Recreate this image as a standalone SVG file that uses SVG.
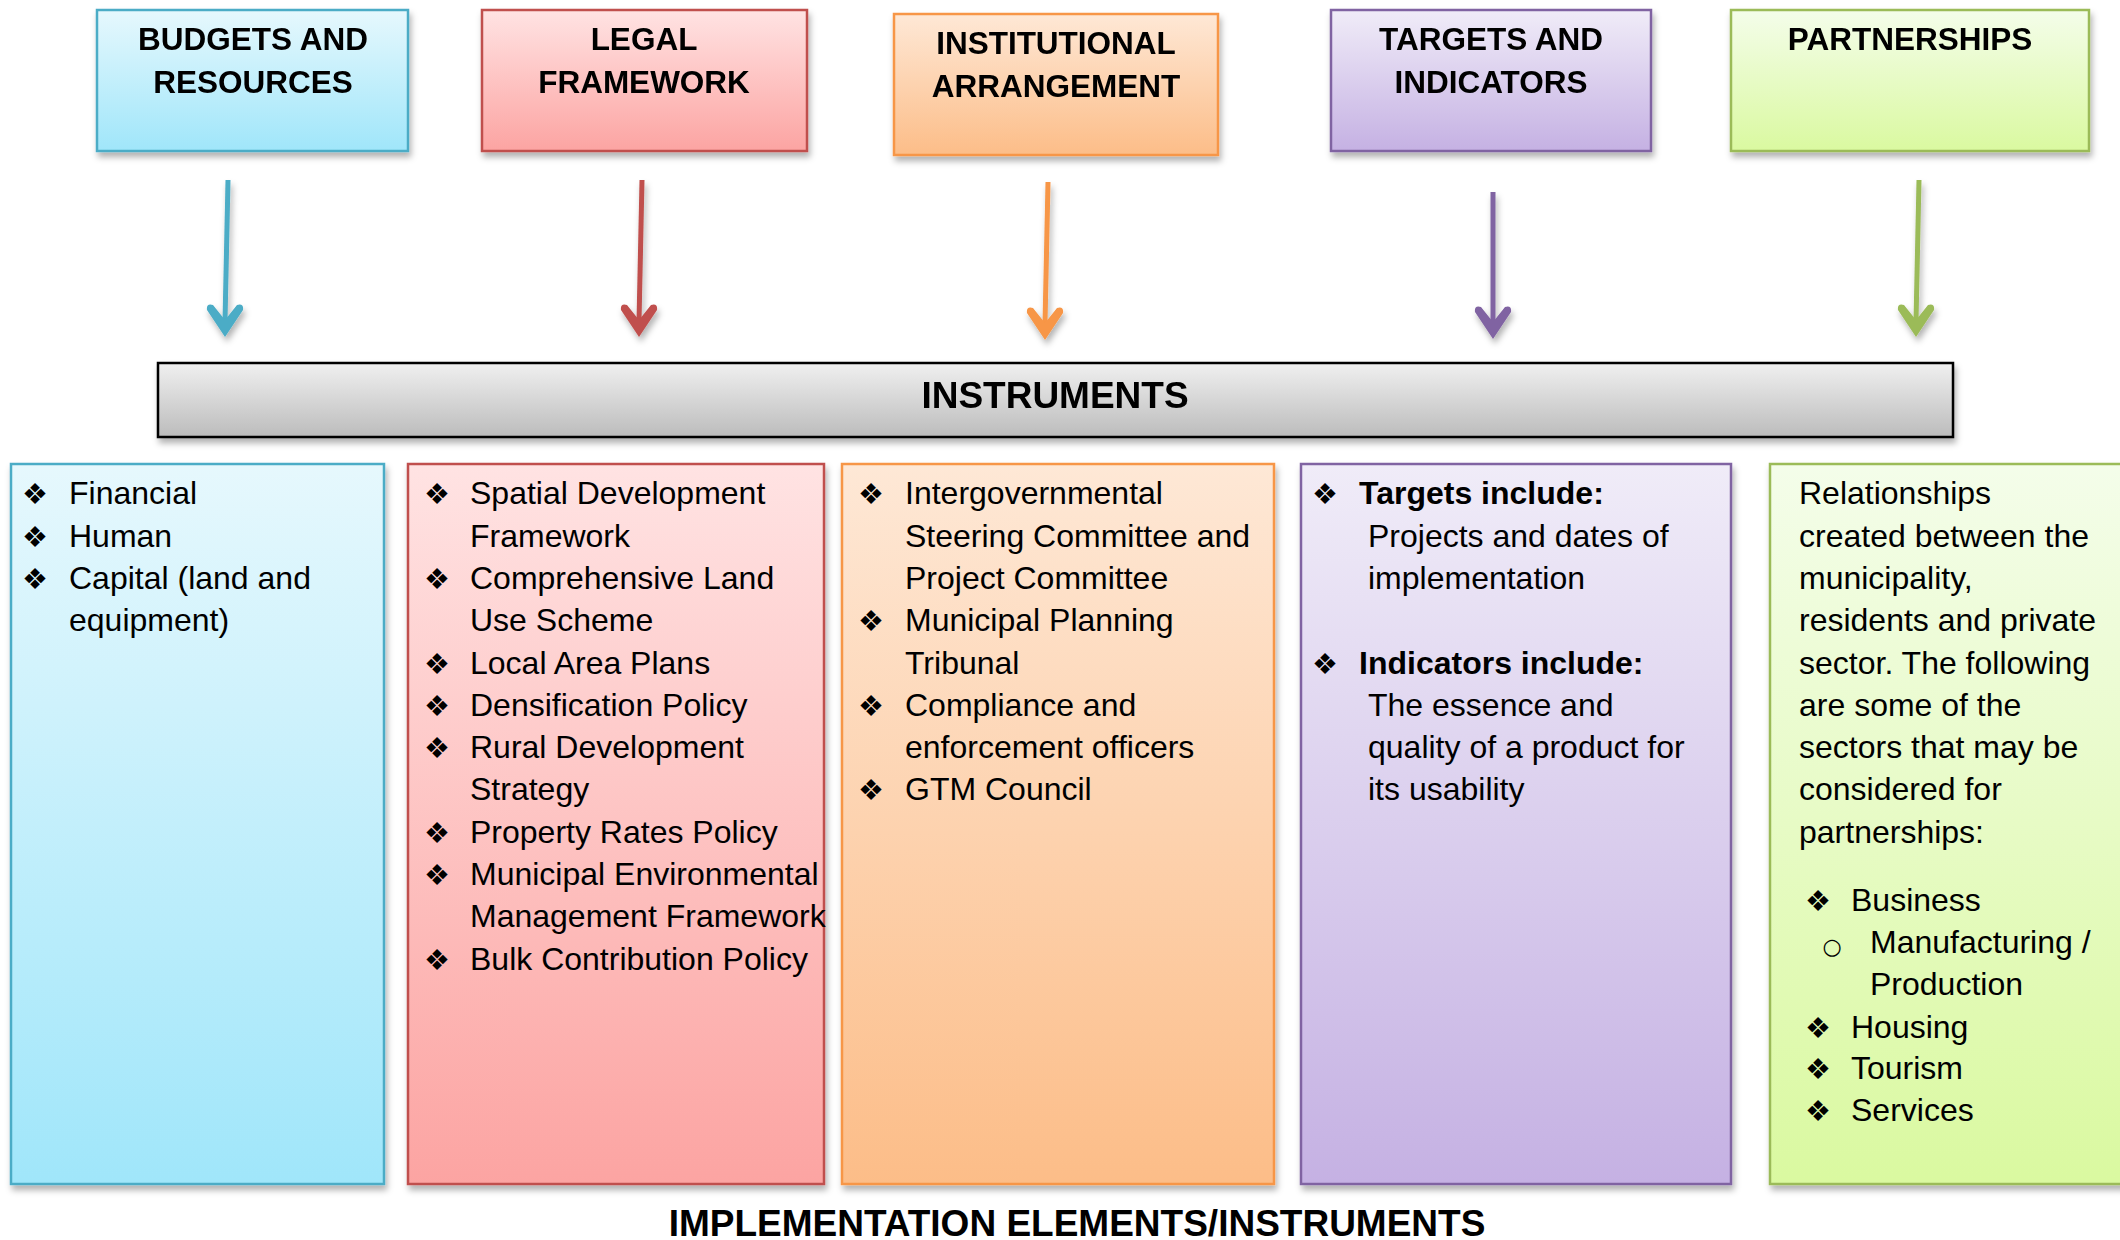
<svg xmlns="http://www.w3.org/2000/svg" width="2120" height="1240" viewBox="0 0 2120 1240">
<defs>
<linearGradient id="gBlue" x1="0" y1="0" x2="0" y2="1"><stop offset="0" stop-color="#E6F8FD"/><stop offset="1" stop-color="#A0E6FA"/></linearGradient>
<linearGradient id="gRed" x1="0" y1="0" x2="0" y2="1"><stop offset="0" stop-color="#FFE3E3"/><stop offset="1" stop-color="#FCA4A2"/></linearGradient>
<linearGradient id="gOrange" x1="0" y1="0" x2="0" y2="1"><stop offset="0" stop-color="#FEE8D6"/><stop offset="1" stop-color="#FCBD88"/></linearGradient>
<linearGradient id="gPurple" x1="0" y1="0" x2="0" y2="1"><stop offset="0" stop-color="#F0ECF8"/><stop offset="1" stop-color="#C5B1E3"/></linearGradient>
<linearGradient id="gGreen" x1="0" y1="0" x2="0" y2="1"><stop offset="0" stop-color="#F4FDEA"/><stop offset="1" stop-color="#DAF9A0"/></linearGradient>
<linearGradient id="gGray" x1="0" y1="0" x2="0" y2="1"><stop offset="0" stop-color="#F0F0F0"/><stop offset="1" stop-color="#BCBCBC"/></linearGradient>
<filter id="sh" x="-10%" y="-10%" width="125%" height="130%"><feDropShadow dx="2" dy="5" stdDeviation="3" flood-color="#000" flood-opacity="0.3"/></filter>
<path id="head" d="M0,0 L-18,-27 Q-19,-34 -12,-32 L0,-17 L12,-32 Q19,-34 18,-27 Z"/>
</defs>
<style>
.h{font-family:"Liberation Sans",Arial,sans-serif;font-weight:bold;font-size:31.5px;fill:#000;text-anchor:middle}
.big{font-family:"Liberation Sans",Arial,sans-serif;font-weight:bold;font-size:37px;fill:#000;text-anchor:middle}
.t{font-family:"Liberation Sans",Arial,sans-serif;font-size:32px;fill:#000}
.b{font-family:"Liberation Sans",Arial,sans-serif;font-size:32px;font-weight:bold;fill:#000}
.bul{font-family:"DejaVu Sans",sans-serif;font-size:29px;fill:#000;text-anchor:middle}
.sub{font-family:"DejaVu Sans",sans-serif;font-size:22px;fill:#000;text-anchor:middle}
.box{stroke-width:2.5}
</style>

<g id="node-budgets" filter="url(#sh)">
<rect class="box" x="97" y="10" width="311" height="141" fill="url(#gBlue)" stroke="#4BACC6"/>
<text class="h" x="253" y="50">BUDGETS AND</text>
<text class="h" x="253" y="93">RESOURCES</text>
</g>
<g id="node-legal" filter="url(#sh)">
<rect class="box" x="482" y="10" width="325" height="141" fill="url(#gRed)" stroke="#C0504D"/>
<text class="h" x="644" y="50">LEGAL</text>
<text class="h" x="644" y="93">FRAMEWORK</text>
</g>
<g id="node-institutional" filter="url(#sh)">
<rect class="box" x="894" y="14" width="324" height="141" fill="url(#gOrange)" stroke="#F79646"/>
<text class="h" x="1056" y="54">INSTITUTIONAL</text>
<text class="h" x="1056" y="97">ARRANGEMENT</text>
</g>
<g id="node-targets" filter="url(#sh)">
<rect class="box" x="1331" y="10" width="320" height="141" fill="url(#gPurple)" stroke="#8064A2"/>
<text class="h" x="1491" y="50">TARGETS AND</text>
<text class="h" x="1491" y="93">INDICATORS</text>
</g>
<g id="node-partnerships" filter="url(#sh)">
<rect class="box" x="1731" y="10" width="358" height="141" fill="url(#gGreen)" stroke="#9BBB59"/>
<text class="h" x="1910" y="50">PARTNERSHIPS</text>
</g>

<g id="node-instruments" filter="url(#sh)">
<rect x="158" y="363" width="1795" height="74" fill="url(#gGray)" stroke="#000" stroke-width="2.5"/>
<text class="big" x="1055" y="408">INSTRUMENTS</text>
</g>

<g id="connectors" filter="url(#sh)">
<g stroke-width="5" fill="none">
<line x1="228" y1="180" x2="225" y2="322" stroke="#4BACC6"/>
<line x1="642" y1="180" x2="639" y2="322" stroke="#C0504D"/>
<line x1="1048" y1="182" x2="1045" y2="324" stroke="#F79646"/>
<line x1="1493" y1="192" x2="1493" y2="322" stroke="#8064A2"/>
<line x1="1919" y1="180" x2="1916" y2="322" stroke="#9BBB59"/>
</g>
<use href="#head" transform="translate(225,337)" fill="#4BACC6"/>
<use href="#head" transform="translate(639,337)" fill="#C0504D"/>
<use href="#head" transform="translate(1045,340)" fill="#F79646"/>
<use href="#head" transform="translate(1493,339)" fill="#8064A2"/>
<use href="#head" transform="translate(1916,337)" fill="#9BBB59"/>
</g>

<g id="node-list-budgets">
<rect class="box" x="11" y="464" width="373" height="720" fill="url(#gBlue)" stroke="#4BACC6" filter="url(#sh)"/>
<text class="bul" x="35" y="504">❖</text><text class="t" x="69" y="504">Financial</text>
<text class="bul" x="35" y="547">❖</text><text class="t" x="69" y="547">Human</text>
<text class="bul" x="35" y="589">❖</text><text class="t" x="69" y="589">Capital (land and</text>
<text class="t" x="69" y="631">equipment)</text>
</g>

<g id="node-list-legal">
<rect class="box" x="408" y="464" width="416" height="720" fill="url(#gRed)" stroke="#C0504D" filter="url(#sh)"/>
<text class="bul" x="437" y="504">❖</text><text class="t" x="470" y="504">Spatial Development</text>
<text class="t" x="470" y="547">Framework</text>
<text class="bul" x="437" y="589">❖</text><text class="t" x="470" y="589">Comprehensive Land</text>
<text class="t" x="470" y="631">Use Scheme</text>
<text class="bul" x="437" y="674">❖</text><text class="t" x="470" y="674">Local Area Plans</text>
<text class="bul" x="437" y="716">❖</text><text class="t" x="470" y="716">Densification Policy</text>
<text class="bul" x="437" y="758">❖</text><text class="t" x="470" y="758">Rural Development</text>
<text class="t" x="470" y="800">Strategy</text>
<text class="bul" x="437" y="843">❖</text><text class="t" x="470" y="843">Property Rates Policy</text>
<text class="bul" x="437" y="885">❖</text><text class="t" x="470" y="885">Municipal Environmental</text>
<text class="t" x="470" y="927">Management Framework</text>
<text class="bul" x="437" y="970">❖</text><text class="t" x="470" y="970">Bulk Contribution Policy</text>
</g>

<g id="node-list-institutional">
<rect class="box" x="842" y="464" width="432" height="720" fill="url(#gOrange)" stroke="#F79646" filter="url(#sh)"/>
<text class="bul" x="871" y="504">❖</text><text class="t" x="905" y="504">Intergovernmental</text>
<text class="t" x="905" y="547">Steering Committee and</text>
<text class="t" x="905" y="589">Project Committee</text>
<text class="bul" x="871" y="631">❖</text><text class="t" x="905" y="631">Municipal Planning</text>
<text class="t" x="905" y="674">Tribunal</text>
<text class="bul" x="871" y="716">❖</text><text class="t" x="905" y="716">Compliance and</text>
<text class="t" x="905" y="758">enforcement officers</text>
<text class="bul" x="871" y="800">❖</text><text class="t" x="905" y="800">GTM Council</text>
</g>

<g id="node-list-targets">
<rect class="box" x="1301" y="464" width="430" height="720" fill="url(#gPurple)" stroke="#8064A2" filter="url(#sh)"/>
<text class="bul" x="1325" y="504">❖</text><text class="b" x="1359" y="504">Targets include:</text>
<text class="t" x="1368" y="547">Projects and dates of</text>
<text class="t" x="1368" y="589">implementation</text>
<text class="bul" x="1325" y="674">❖</text><text class="b" x="1359" y="674">Indicators include:</text>
<text class="t" x="1368" y="716">The essence and</text>
<text class="t" x="1368" y="758">quality of a product for</text>
<text class="t" x="1368" y="800">its usability</text>
</g>

<g id="node-list-partnerships">
<rect class="box" x="1770" y="464" width="360" height="720" fill="url(#gGreen)" stroke="#9BBB59" filter="url(#sh)"/>
<text class="t" x="1799" y="504">Relationships</text>
<text class="t" x="1799" y="547">created between the</text>
<text class="t" x="1799" y="589">municipality,</text>
<text class="t" x="1799" y="631">residents and private</text>
<text class="t" x="1799" y="674">sector. The following</text>
<text class="t" x="1799" y="716">are some of the</text>
<text class="t" x="1799" y="758">sectors that may be</text>
<text class="t" x="1799" y="800">considered for</text>
<text class="t" x="1799" y="843">partnerships:</text>
<text class="bul" x="1818" y="911">❖</text><text class="t" x="1851" y="911">Business</text>
<text class="sub" x="1832" y="954">○</text><text class="t" x="1870" y="953">Manufacturing /</text>
<text class="t" x="1870" y="995">Production</text>
<text class="bul" x="1818" y="1038">❖</text><text class="t" x="1851" y="1038">Housing</text>
<text class="bul" x="1818" y="1079">❖</text><text class="t" x="1851" y="1079">Tourism</text>
<text class="bul" x="1818" y="1121">❖</text><text class="t" x="1851" y="1121">Services</text>
</g>

<text class="big" x="1077" y="1236">IMPLEMENTATION ELEMENTS/INSTRUMENTS</text>
</svg>
